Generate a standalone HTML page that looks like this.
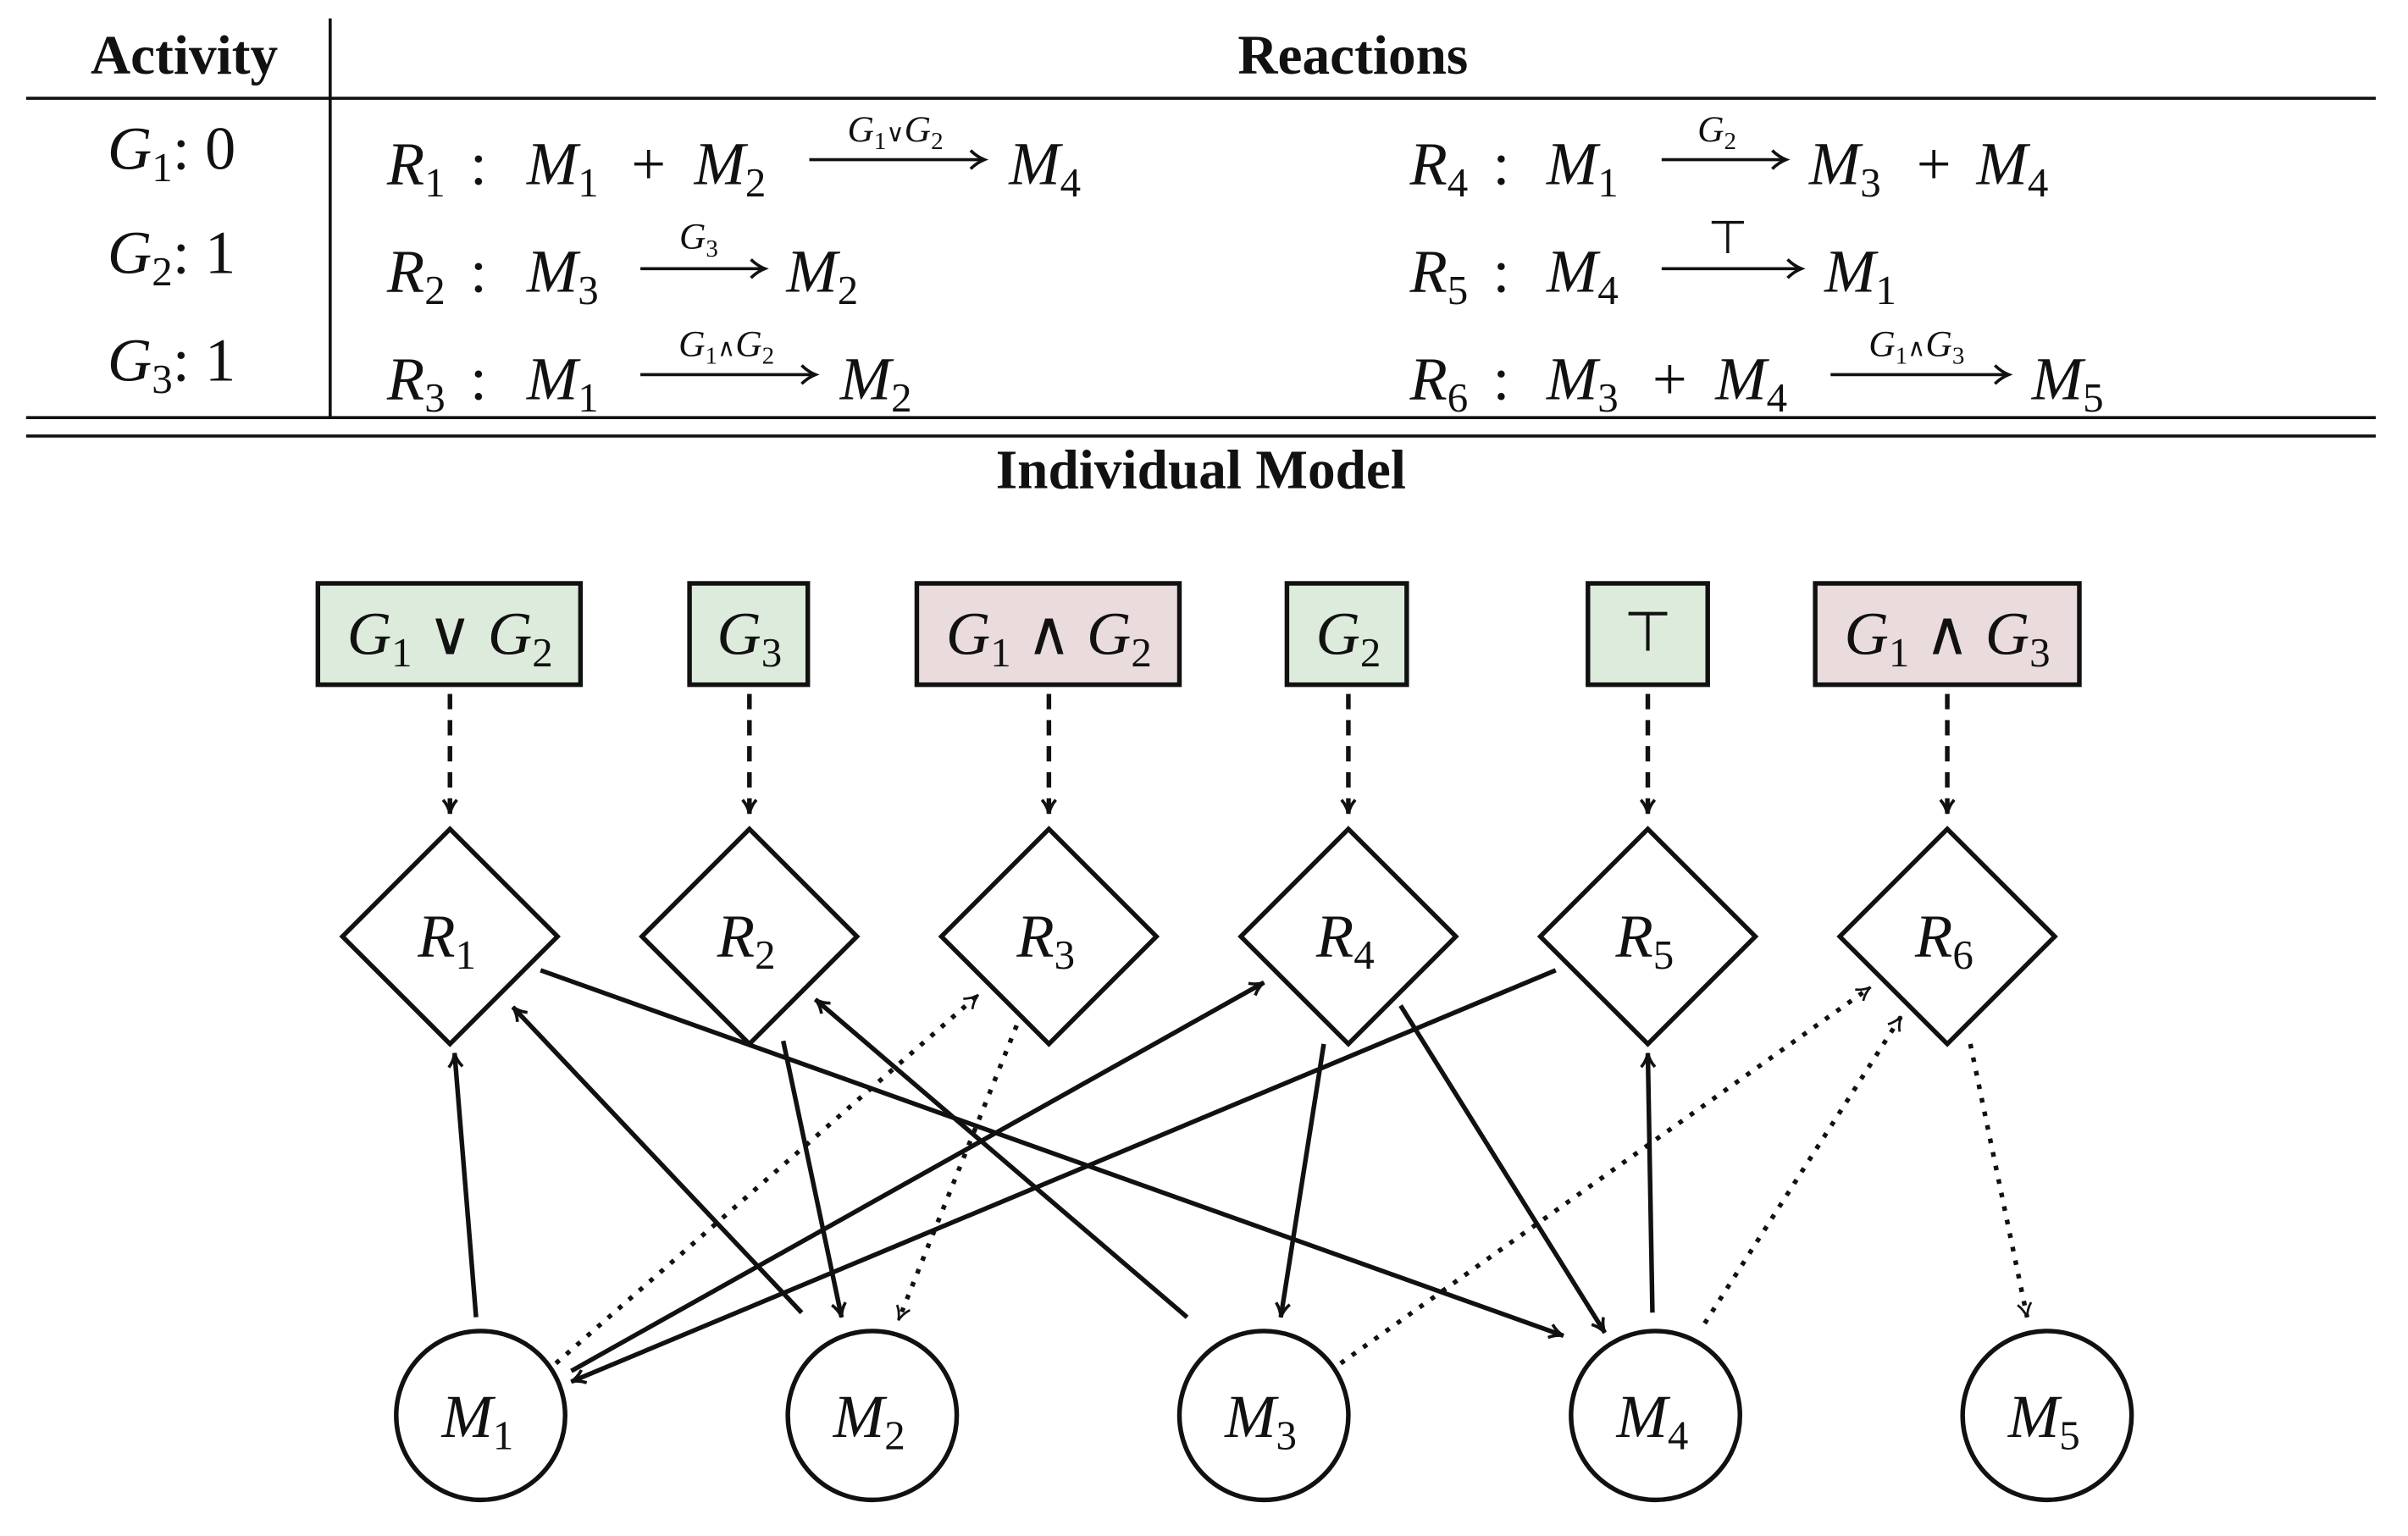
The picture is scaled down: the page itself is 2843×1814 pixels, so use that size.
<!DOCTYPE html>
<html><head><meta charset="utf-8"><style>
html,body{margin:0;padding:0;background:#fff}
svg{display:block}
text{font-family:"Liberation Serif",serif;fill:#111}
.m{font-style:italic;font-size:40px}
.s{font-style:normal;font-size:27px}
.u{font-style:normal;font-size:40px}
.l{font-style:italic;font-size:24px}
.ls{font-style:normal;font-size:16px}
.b{font-weight:bold;font-size:36px;font-family:"Liberation Serif",serif}
</style></head><body>
<svg width="2843" height="1814" viewBox="0 0 1568 1000.5" preserveAspectRatio="none" xmlns="http://www.w3.org/2000/svg">
<defs>
<marker id="a" viewBox="0 0 12 12" refX="10" refY="6" markerWidth="12" markerHeight="12" markerUnits="userSpaceOnUse" orient="auto">
<path d="M1,1.5 Q5,5 10,6 Q5,7 1,10.5" fill="none" stroke="#111" stroke-width="2"/></marker>
<marker id="t" viewBox="0 0 12 12" refX="10" refY="6" markerWidth="12" markerHeight="12" markerUnits="userSpaceOnUse" orient="auto">
<path d="M1,1.5 Q5,5 10,6 Q5,7 1,10.5" fill="none" stroke="#111" stroke-width="1.5"/></marker>
</defs>
<line x1="17" y1="64" x2="1547" y2="64" stroke="#111" stroke-width="2"/>
<line x1="215" y1="12" x2="215" y2="272" stroke="#111" stroke-width="2"/>
<line x1="17" y1="272" x2="1547" y2="272" stroke="#111" stroke-width="2"/>
<line x1="17" y1="284" x2="1547" y2="284" stroke="#111" stroke-width="2"/>
<text class="b" x="120" y="48" text-anchor="middle">Activity</text>
<text class="b" x="881" y="48" text-anchor="middle">Reactions</text>
<text class="b" x="782" y="318" text-anchor="middle">Individual Model</text>
<text class="m" x="70" y="110">G<tspan class="s" dy="8">1</tspan><tspan class="u" dy="-8">: 0</tspan></text>
<text class="m" x="70" y="178">G<tspan class="s" dy="8">2</tspan><tspan class="u" dy="-8">: 1</tspan></text>
<text class="m" x="70" y="248">G<tspan class="s" dy="8">3</tspan><tspan class="u" dy="-8">: 1</tspan></text>
<g stroke="#111" stroke-width="2" fill="none">
<line x1="527" y1="104" x2="640" y2="104"/><path d="M632,98 Q636,102 641,104 Q636,106 632,110"/>
<line x1="1082" y1="104" x2="1162" y2="104"/><path d="M1154,98 Q1158,102 1163,104 Q1158,106 1154,110"/>
<line x1="417" y1="175" x2="497" y2="175"/><path d="M489,169 Q493,173 498,175 Q493,177 489,181"/>
<line x1="1082" y1="175" x2="1172" y2="175"/><path d="M1164,169 Q1168,173 1173,175 Q1168,177 1164,181"/>
<line x1="417" y1="244" x2="530" y2="244"/><path d="M522,238 Q526,242 531,244 Q526,246 522,250"/>
<line x1="1192" y1="244" x2="1307" y2="244"/><path d="M1299,238 Q1303,242 1308,244 Q1303,246 1299,250"/>
</g>
<text class="m" x="252" y="120">R<tspan class="s" dy="8">1</tspan></text>
<text class="u" x="306" y="120">:</text>
<text class="m" x="343" y="120">M<tspan class="s" dy="8">1</tspan></text>
<text class="u" x="411" y="120">+</text>
<text class="m" x="452" y="120">M<tspan class="s" dy="8">2</tspan></text>
<text class="l" x="583" y="92" text-anchor="middle">G<tspan class="ls" dy="5">1</tspan><tspan class="ls" dy="-5" font-size="22">∨</tspan>G<tspan class="ls" dy="5">2</tspan></text>
<text class="m" x="657" y="120">M<tspan class="s" dy="8">4</tspan></text>
<text class="m" x="918" y="120">R<tspan class="s" dy="8">4</tspan></text>
<text class="u" x="972" y="120">:</text>
<text class="m" x="1007" y="120">M<tspan class="s" dy="8">1</tspan></text>
<text class="l" x="1118" y="92" text-anchor="middle">G<tspan class="ls" dy="5">2</tspan></text>
<text class="m" x="1178" y="120">M<tspan class="s" dy="8">3</tspan></text>
<text class="u" x="1248" y="120">+</text>
<text class="m" x="1287" y="120">M<tspan class="s" dy="8">4</tspan></text>
<text class="m" x="252" y="190">R<tspan class="s" dy="8">2</tspan></text>
<text class="u" x="306" y="190">:</text>
<text class="m" x="343" y="190">M<tspan class="s" dy="8">3</tspan></text>
<text class="l" x="455" y="162" text-anchor="middle">G<tspan class="ls" dy="5">3</tspan></text>
<text class="m" x="512" y="190">M<tspan class="s" dy="8">2</tspan></text>
<text class="m" x="918" y="190">R<tspan class="s" dy="8">5</tspan></text>
<text class="u" x="972" y="190">:</text>
<text class="m" x="1007" y="190">M<tspan class="s" dy="8">4</tspan></text>
<text x="1125" y="165" font-size="30" text-anchor="middle">⊤</text>
<text class="m" x="1188" y="190">M<tspan class="s" dy="8">1</tspan></text>
<text class="m" x="252" y="260">R<tspan class="s" dy="8">3</tspan></text>
<text class="u" x="306" y="260">:</text>
<text class="m" x="343" y="260">M<tspan class="s" dy="8">1</tspan></text>
<text class="l" x="473" y="232" text-anchor="middle">G<tspan class="ls" dy="5">1</tspan><tspan class="ls" dy="-5" font-size="22">∧</tspan>G<tspan class="ls" dy="5">2</tspan></text>
<text class="m" x="547" y="260">M<tspan class="s" dy="8">2</tspan></text>
<text class="m" x="918" y="260">R<tspan class="s" dy="8">6</tspan></text>
<text class="u" x="972" y="260">:</text>
<text class="m" x="1007" y="260">M<tspan class="s" dy="8">3</tspan></text>
<text class="u" x="1076" y="260">+</text>
<text class="m" x="1117" y="260">M<tspan class="s" dy="8">4</tspan></text>
<text class="l" x="1248" y="232" text-anchor="middle">G<tspan class="ls" dy="5">1</tspan><tspan class="ls" dy="-5" font-size="22">∧</tspan>G<tspan class="ls" dy="5">3</tspan></text>
<text class="m" x="1323" y="260">M<tspan class="s" dy="8">5</tspan></text>
<g stroke="#111" stroke-width="3">
<rect x="207" y="380" width="171" height="66" fill="#dcebdc"/>
<rect x="449" y="380" width="77" height="66" fill="#dcebdc"/>
<rect x="597" y="380" width="171" height="66" fill="#eadcdc"/>
<rect x="838" y="380" width="78" height="66" fill="#dcebdc"/>
<rect x="1034" y="380" width="78" height="66" fill="#dcebdc"/>
<rect x="1182" y="380" width="172" height="66" fill="#eadcdc"/>
</g>
<g text-anchor="middle">
<text class="m" x="293" y="426">G<tspan class="s" dy="8">1</tspan><tspan class="u" dy="-8" font-size="34"> ∨ </tspan>G<tspan class="s" dy="8">2</tspan></text>
<text class="m" x="488" y="426">G<tspan class="s" dy="8">3</tspan></text>
<text class="m" x="683" y="426">G<tspan class="s" dy="8">1</tspan><tspan class="u" dy="-8" font-size="34"> ∧ </tspan>G<tspan class="s" dy="8">2</tspan></text>
<text class="m" x="878" y="426">G<tspan class="s" dy="8">2</tspan></text>
<text x="1073" y="424" font-size="36">⊤</text>
<text class="m" x="1268" y="426">G<tspan class="s" dy="8">1</tspan><tspan class="u" dy="-8" font-size="34"> ∧ </tspan>G<tspan class="s" dy="8">3</tspan></text>
</g>
<g stroke="#111" stroke-width="3" stroke-dasharray="10,7" marker-end="url(#a)">
<line x1="293" y1="452" x2="293" y2="530"/>
<line x1="488" y1="452" x2="488" y2="530"/>
<line x1="683" y1="452" x2="683" y2="530"/>
<line x1="878" y1="452" x2="878" y2="530"/>
<line x1="1073" y1="452" x2="1073" y2="530"/>
<line x1="1268" y1="452" x2="1268" y2="530"/>
</g>
<g stroke="#111" stroke-width="3" fill="#fff">
<path d="M293,540 L363,610 L293,680 L223,610 Z"/>
<path d="M488,540 L558,610 L488,680 L418,610 Z"/>
<path d="M683,540 L753,610 L683,680 L613,610 Z"/>
<path d="M878,540 L948,610 L878,680 L808,610 Z"/>
<path d="M1073,540 L1143,610 L1073,680 L1003,610 Z"/>
<path d="M1268,540 L1338,610 L1268,680 L1198,610 Z"/>
</g>
<g text-anchor="middle">
<text class="m" x="291" y="623">R<tspan class="s" dy="8">1</tspan></text>
<text class="m" x="486" y="623">R<tspan class="s" dy="8">2</tspan></text>
<text class="m" x="681" y="623">R<tspan class="s" dy="8">3</tspan></text>
<text class="m" x="876" y="623">R<tspan class="s" dy="8">4</tspan></text>
<text class="m" x="1071" y="623">R<tspan class="s" dy="8">5</tspan></text>
<text class="m" x="1266" y="623">R<tspan class="s" dy="8">6</tspan></text>
</g>
<g stroke="#111" stroke-width="3" fill="#fff">
<circle cx="313" cy="922" r="55"/><circle cx="568" cy="922" r="55"/><circle cx="823" cy="922" r="55"/><circle cx="1078" cy="922" r="55"/><circle cx="1333" cy="922" r="55"/>
</g>
<g text-anchor="middle">
<text class="m" x="311" y="936">M<tspan class="s" dy="8">1</tspan></text>
<text class="m" x="566" y="936">M<tspan class="s" dy="8">2</tspan></text>
<text class="m" x="821" y="936">M<tspan class="s" dy="8">3</tspan></text>
<text class="m" x="1076" y="936">M<tspan class="s" dy="8">4</tspan></text>
<text class="m" x="1331" y="936">M<tspan class="s" dy="8">5</tspan></text>
</g>
<g stroke="#111" stroke-width="3" fill="none" marker-end="url(#a)">
<line x1="310" y1="858" x2="296" y2="686"/>
<line x1="522" y1="855" x2="334" y2="656"/>
<line x1="352" y1="632" x2="1018" y2="870"/>
<line x1="510" y1="678" x2="548" y2="858"/>
<line x1="773" y1="858" x2="531" y2="651"/>
<line x1="372" y1="893" x2="823" y2="640"/>
<line x1="862" y1="680" x2="834" y2="858"/>
<line x1="912" y1="655" x2="1045" y2="868"/>
<line x1="1013" y1="632" x2="372" y2="900"/>
<line x1="1076" y1="855" x2="1073" y2="686"/>
</g>
<g stroke="#111" stroke-width="3" fill="none" stroke-dasharray="3,6" marker-end="url(#t)">
<line x1="362" y1="888" x2="637" y2="648"/>
<line x1="662" y1="668" x2="585" y2="860"/>
<line x1="873" y1="888" x2="1218" y2="643"/>
<line x1="1110" y1="862" x2="1238" y2="662"/>
<line x1="1283" y1="680" x2="1320" y2="858"/>
</g>
</svg>
</body></html>
